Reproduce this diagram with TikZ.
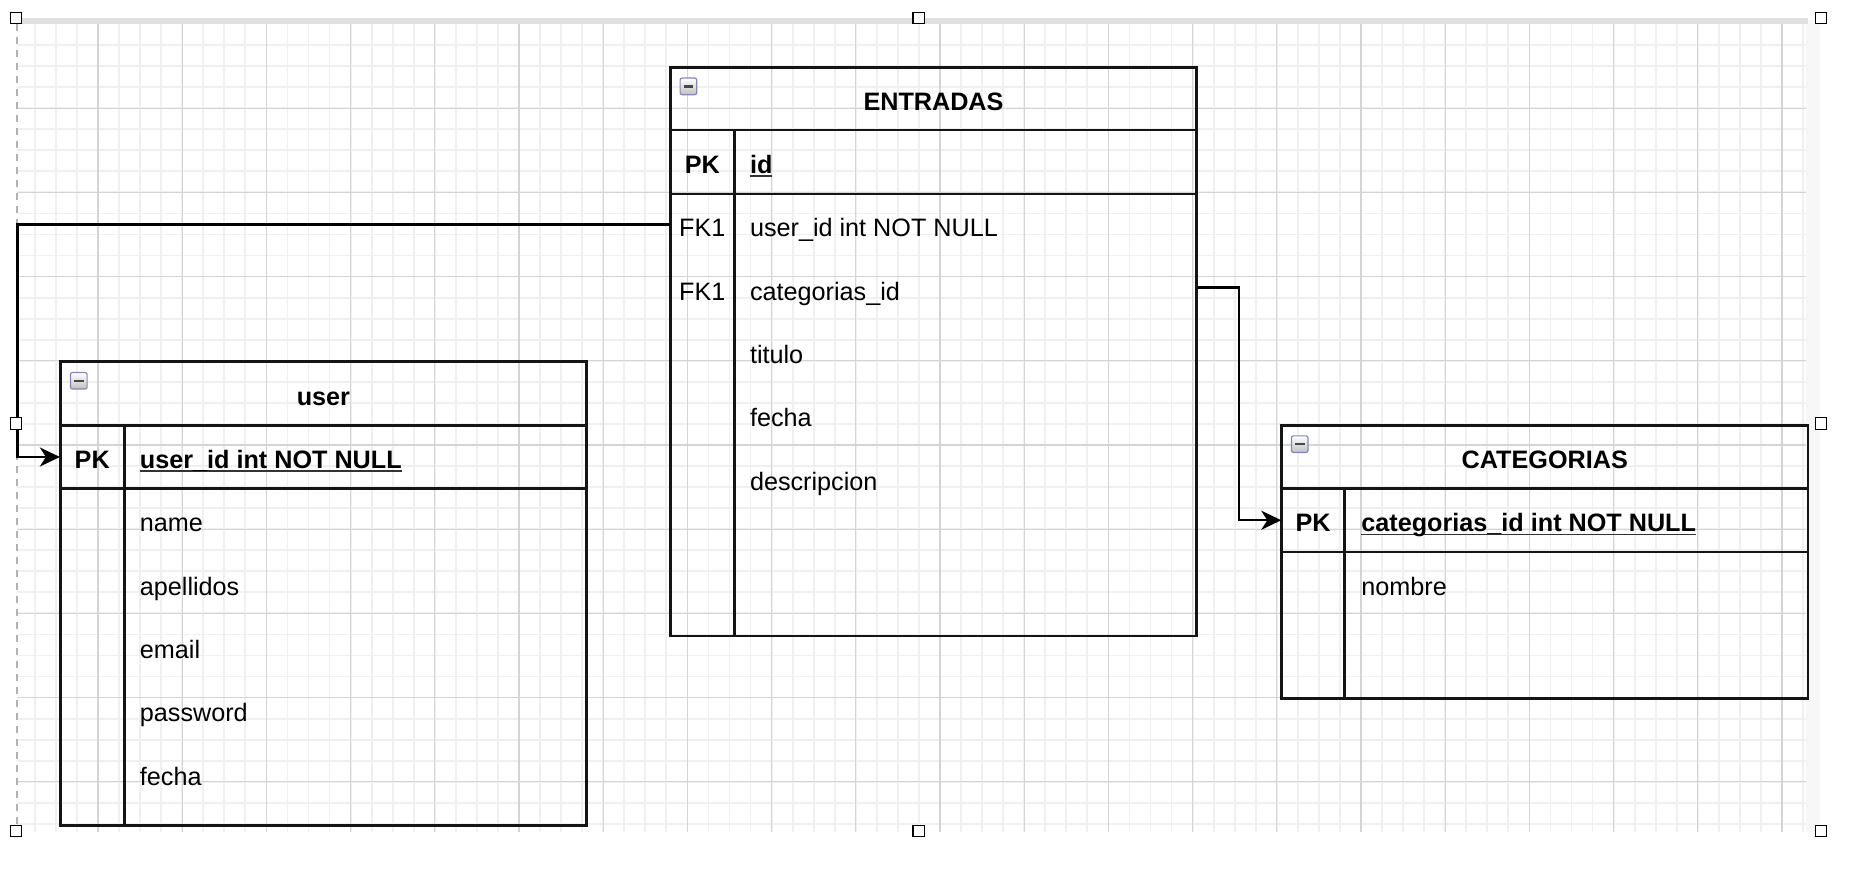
\documentclass[tikz,border=0pt]{standalone}
\usepackage{fontspec}
\setmainfont{Liberation Sans}
\usetikzlibrary{arrows.meta,fit}
\newcommand{\pkul}[1]{\setbox0=\hbox{#1}\rlap{\color{black!80}\rule[-1.6pt]{\wd0}{0.6pt}}\box0}
\newcommand{\fsz}{\fontsize{12.6pt}{15pt}\selectfont}
\begin{document}
\begin{tikzpicture}[x=0.5pt,y=-0.5pt,
  txt/.style={font=\fsz, inner sep=0pt, text height=11.4pt, text depth=0pt, text=black},
  bold/.style={txt, font=\fsz\bfseries},
  fld/.style={txt, anchor=west},
  tbl/.style={draw=black!92, line width=1.3pt, inner sep=0pt},
  rowbox/.style={inner sep=0pt},
  minorgrid/.style={draw=black!6, line width=0.9pt},
  majorgrid/.style={draw=black!17, line width=0.55pt},
  handle/.style={draw=black, fill=white, line width=0.6pt, minimum size=5.8pt, inner sep=0pt},
  icon/.style={draw=blue!25!gray!75, top color=white, bottom color=gray!50, rounded corners=1pt,
    line width=0.6pt, minimum size=8.3pt, inner sep=0pt,
    path picture={\draw[line width=1.2pt, black!72] ([xshift=-2.4pt]path picture bounding box.center) -- ([xshift=2.4pt]path picture bounding box.center);}},
  conn/.style={draw=black, line width=1.25pt, -{Stealth[length=10pt,width=9.5pt,inset=3pt]}}
]
\useasboundingbox[fill=white] (0,0) rectangle (1854,876);

% page grid
\foreach \k in {1,...,85} \draw[minorgrid] ({13.8+21.05*\k},24) -- ({13.8+21.05*\k},832);
\foreach \k in {1,...,38} \draw[minorgrid] (17,{24+21.05*\k}) -- (1806,{24+21.05*\k});
\foreach \k in {4,8,...,84} \draw[majorgrid] ({13.8+21.05*\k},24) -- ({13.8+21.05*\k},832);
\foreach \k in {4,8,...,36} \draw[majorgrid] (17,{24+21.05*\k}) -- (1806,{24+21.05*\k});
% page edges
\fill[black!3] (1806,20) rectangle (1820,832);
\fill[black!12] (17,18.5) rectangle (1808,24);
\draw[black!30, line width=1pt, dash pattern=on 3.5pt off 3pt] (17,24) -- (17,832);

% ENTRADAS
\node[tbl, fit={(670.4,67.4)(1196.6,636.1)}] (entradas) {};
\draw[tbl] (670.4,130.1) -- (1196.6,130.1);
\draw[tbl] (670.4,193.9) -- (1196.6,193.9);
\draw[tbl] (734.3,130.1) -- (734.3,636.1);
\node[rowbox, fit={(670.4,130.1)(1196.6,193.9)}] (e-pk) {};
\node[rowbox, fit={(670.4,193.9)(1196.6,255.5)}] (e-fk1) {};
\node[rowbox, fit={(670.4,255.5)(1196.6,319.1)}] (e-fk2) {};
\node[icon] (e-icon) at (688.4,86.4) {};
\node[bold] (e-title) at (933.5,98.75) {ENTRADAS};
\node[bold] (e-pkk) at (702.3,162) {PK};
\node[fld, font=\fsz\bfseries] (e-pkf) at (749.6,162) {\pkul{id}};
\node[txt] (e-k1) at (702.3,225.6) {FK1};
\node[fld] (e-f1) at (749.6,225.6) {user\_id int NOT NULL};
\node[txt] (e-k2) at (702.3,288.9) {FK1};
\node[fld] (e-f2) at (749.6,288.9) {categorias\_id};
\node[fld] (e-f3) at (749.6,352.3) {titulo};
\node[fld] (e-f4) at (749.6,415.6) {fecha};
\node[fld] (e-f5) at (749.6,479) {descripcion};

% user
\node[tbl, fit={(60.3,361.8)(586.5,825.3)}] (user) {};
\draw[tbl] (60.3,425.7) -- (586.5,425.7);
\draw[tbl] (60.3,488.3) -- (586.5,488.3);
\draw[tbl] (124.2,425.7) -- (124.2,825.3);
\node[rowbox, fit={(60.3,425.7)(586.5,488.3)}] (u-pk) {};
\node[icon] (u-icon) at (78.8,380.8) {};
\node[bold] (u-title) at (323.4,393.75) {user};
\node[bold] (u-pkk) at (92.25,457) {PK};
\node[fld, font=\fsz\bfseries] (u-pkf) at (139.5,457) {\pkul{user\_id int NOT NULL}};
\node[fld] (u-f1) at (139.5,520.5) {name};
\node[fld] (u-f2) at (139.5,583.8) {apellidos};
\node[fld] (u-f3) at (139.5,647.2) {email};
\node[fld] (u-f4) at (139.5,710.6) {password};
\node[fld] (u-f5) at (139.5,774) {fecha};

% CATEGORIAS
\node[tbl, fit={(1281.7,425.7)(1807.8,698.8)}] (categorias) {};
\draw[tbl] (1281.7,488.3) -- (1807.8,488.3);
\draw[tbl] (1281.7,552.2) -- (1807.8,552.2);
\draw[tbl] (1344.4,488.3) -- (1344.4,698.8);
\node[rowbox, fit={(1281.7,488.3)(1807.8,552.2)}] (c-pk) {};
\node[icon] (c-icon) at (1299.7,444.2) {};
\node[bold] (c-title) at (1544.75,457) {CATEGORIAS};
\node[bold] (c-pkk) at (1313,520.25) {PK};
\node[fld, font=\fsz\bfseries] (c-pkf) at (1361,520.25) {\pkul{categorias\_id int NOT NULL}};
\node[fld] (c-f1) at (1361,583.8) {nombre};

% connectors
\coordinate (lx) at (17.7,0);
\coordinate (rx) at (1239.2,0);
\draw[conn] (e-fk1.west) -- (e-fk1.west -| lx) |- (u-pk.west);
\draw[conn] (e-fk2.east) -- (e-fk2.east -| rx) |- (c-pk.west);

% selection handles
\node[handle] (h1) at (16,18) {};
\node[handle] (h2) at (918.7,18) {};
\node[handle] (h3) at (1821,18) {};
\node[handle] (h4) at (16,423.5) {};
\node[handle] (h5) at (1821,423.5) {};
\node[handle] (h6) at (16,831) {};
\node[handle] (h7) at (918.7,831) {};
\node[handle] (h8) at (1821,831) {};
\end{tikzpicture}
\end{document}
